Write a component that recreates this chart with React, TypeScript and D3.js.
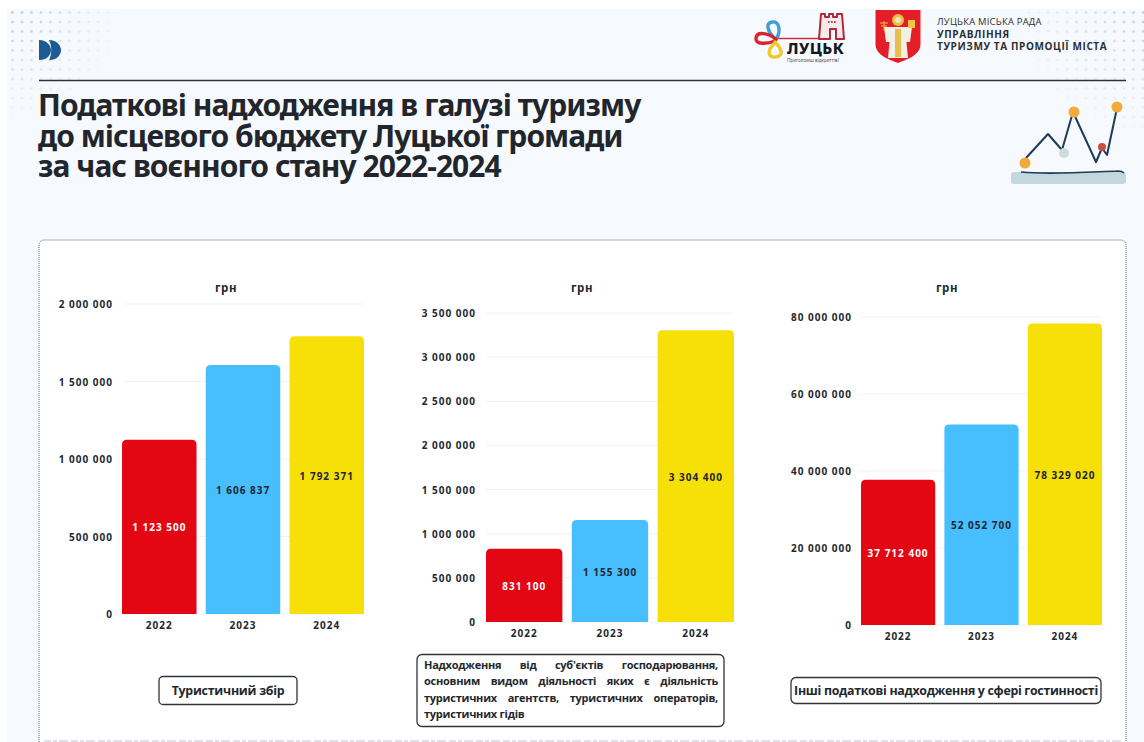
import React, { useLayoutEffect, useRef } from "react";
import * as d3 from "d3";

const years = ["2022", "2023", "2024"];
const barColors = ["#e30613", "#47bfff", "#f6e008"];
const labelColors = ["#ffffff", "#1c2530", "#1c2530"];

const touristTax = [1123500, 1606837, 1792371];
const agencyTax = [831100, 1155300, 3304400];
const hospitalityTax = [37712400, 52052700, 78329020];

const touristTicks = [0, 500000, 1000000, 1500000, 2000000];
const agencyTicks = [0, 500000, 1000000, 1500000, 2000000, 2500000, 3000000, 3500000];
const hospitalityTicks = [0, 20000000, 40000000, 60000000, 80000000];

const titleLines = [
  "Податкові надходження в галузі туризму",
  "до місцевого бюджету Луцької громади",
  "за час воєнного стану 2022-2024",
];
const unitLabel = "грн";
const agencyCaption = [
  "Надходження від суб'єктів господарювання,",
  "основним видом діяльності яких є діяльність",
  "туристичних агентств, туристичних операторів,",
];
const agencyCaptionLast = "туристичних гідів";

const FONT = "'Noto Sans', 'Open Sans', sans-serif";
const CAPTION_FONT = "'Open Sans', 'Noto Sans', sans-serif";
const INK = "#23282f";
const fmt = (v: number) => d3.format(",")(v).replace(/,/g, " ");

function topRoundedBar(x: number, y: number, w: number, h: number, r: number) {
  const p = d3.path();
  p.moveTo(x, y + h);
  p.lineTo(x, y + r);
  p.quadraticCurveTo(x, y, x + r, y);
  p.lineTo(x + w - r, y);
  p.quadraticCurveTo(x + w, y, x + w, y + r);
  p.lineTo(x + w, y + h);
  p.closePath();
  return p.toString();
}

type ChartProps = {
  values: number[];
  ticks: number[];
  x0: number;
  x1: number;
  yTop: number;
  yBottom: number;
  tickX: number;
  gridStart: number;
  unitX: number;
  unitY: number;
};

function BarPanel({ values, ticks, x0, x1, yTop, yBottom, tickX, gridStart, unitX, unitY }: ChartProps) {
  const x = d3.scaleBand<string>().domain(years).range([x0, x1]).paddingInner(0.11).paddingOuter(0);
  const y = d3.scaleLinear().domain([0, ticks[ticks.length - 1]]).range([yBottom, yTop]);
  const numStyle: React.CSSProperties = { fontFamily: FONT, fontWeight: 700, fontSize: 10, letterSpacing: 1 };
  return (
    <g>
      <text x={unitX} y={unitY} textAnchor="middle" fill={INK} style={{ ...numStyle, fontSize: 11.5, letterSpacing: 0.6 }}>
        {unitLabel}
      </text>
      {ticks.map((t) => (
        <g key={t}>
          <line x1={gridStart} x2={x1} y1={y(t)} y2={y(t)} stroke="#f0f1f3" strokeWidth={1} />
          <text x={tickX} y={y(t) + 4} textAnchor="end" fill={INK} style={numStyle}>
            {fmt(t)}
          </text>
        </g>
      ))}
      {years.map((yr, i) => {
        const bx = x(yr)!;
        const top = y(values[i]);
        return (
          <g key={yr}>
            <path d={topRoundedBar(bx, top, x.bandwidth(), yBottom - top, 5)} fill={barColors[i]} />
            <text x={bx + x.bandwidth() / 2} y={(top + yBottom) / 2 + 4.5} textAnchor="middle" fill={labelColors[i]} style={numStyle}>
              {fmt(values[i])}
            </text>
            <text x={bx + x.bandwidth() / 2} y={yBottom + 14.5} textAnchor="middle" fill={INK} style={numStyle}>
              {yr}
            </text>
          </g>
        );
      })}
    </g>
  );
}

const captionStyle: React.CSSProperties = { fontFamily: CAPTION_FONT, fontWeight: 700, fontSize: 11, letterSpacing: -0.25 };

function JustifiedLine({ text, x, y, width }: { text: string; x: number; y: number; width: number }) {
  const ref = useRef<SVGTextElement>(null);
  useLayoutEffect(() => {
    const el = ref.current!;
    el.style.wordSpacing = "0px";
    const len = el.getComputedTextLength();
    const gaps = text.split(" ").length - 1;
    el.style.wordSpacing = `${(width - len) / gaps}px`;
  }, [text, width]);
  return (
    <text ref={ref} x={x} y={y} fill={INK} style={captionStyle}>
      {text}
    </text>
  );
}

function Logos() {
  return (
    <g>
      {/* Lutsk city mark */}
      <g fill="none" strokeLinecap="round">
        <path d="M776 40 C766 30 766 23 772 22 C779 21 781 30 777 38" stroke="#3f9fd6" strokeWidth={3.4} />
        <path d="M776 39 C768 33 757 31 756 38 C755 45 767 44 775 41" stroke="#d9232e" strokeWidth={3.4} />
        <path d="M775 42 C782 49 784 56 776 57 C767 58 767 50 775 43" stroke="#f1c92f" strokeWidth={3.4} />
        <path d="M779 38.5 L819 38.5 L823 24" stroke="#c8304a" strokeWidth={1.6} />
      </g>
      <path d="M821 14 L825 14 L825 17 L829 17 L829 14 L833 14 L833 17 L837 17 L837 14 L842 14 L844 39 L836 39 L836 29 L830 29 L830 39 L819 39 Z" fill="#f8e9ea" stroke="#b02a3a" strokeWidth={2} strokeLinejoin="round" />
      <path d="M828 22 h1.6 M831 22 h1.6 M834 22 h1.6" stroke="#70202a" strokeWidth={1.6} />
      <text x={787} y={53.5} fill="#15181c" style={{ fontFamily: FONT, fontWeight: 800, fontSize: 15.5, letterSpacing: 0.5 }}>
        ЛУЦЬК
      </text>
      <text x={787} y={61.5} fill="#555" style={{ fontFamily: FONT, fontSize: 4.6 }}>
        Приголомш відкриттів!
      </text>
      {/* Coat of arms */}
      <path d="M875.5 10 L920.5 10 L920.5 44 C920.5 55 908 59 898 63 C888 59 875.5 55 875.5 44 Z" fill="#e31e26" />
      <circle cx={898} cy={20} r={6} fill="#e9bf45" />
      <circle cx={898} cy={20} r={3} fill="#f3e3b8" />
      <path d="M891 27 L905 27 L908 58 L888 58 Z" fill="#f3efe4" />
      <rect x={895} y={29} width={6} height={28} fill="#e6bf4e" />
      <path d="M884 27 L891 27 L891 42 L886 42 Z" fill="#f3efe4" />
      <path d="M905 27 L912 27 L910 42 L905 42 Z" fill="#f3efe4" />
      <rect x={908} y={20} width={7} height={8} fill="#efc83d" />
      <path d="M884 21 L884 31 M880 23 L888 23 M881 26 L887 26" stroke="#e9bf45" strokeWidth={1} />
      {/* Office name */}
      <g fill="#2b2f36" style={{ fontFamily: CAPTION_FONT }}>
        <text x={937} y={25} style={{ fontSize: 9.4, fontWeight: 400, letterSpacing: 0.25 }}>ЛУЦЬКА МІСЬКА РАДА</text>
        <text x={937} y={38} style={{ fontSize: 10, fontWeight: 700, letterSpacing: 0.6 }}>УПРАВЛІННЯ</text>
        <text x={937} y={50} style={{ fontSize: 10, fontWeight: 700, letterSpacing: 0.6 }}>ТУРИЗМУ ТА ПРОМОЦІЇ МІСТА</text>
      </g>
    </g>
  );
}

function TrendDecor() {
  return (
    <g>
      <rect x={1011} y={172} width={115} height={12} rx={3} fill="#c3d8de" />
      <path d="M1021 172 C1050 175 1090 172 1118 171 C1122 171 1123 172 1124 173" fill="none" stroke="#1f3a58" strokeWidth={1.6} />
      <path d="M1026 158 L1048 134 L1062 150 L1073 112 L1096 162 L1102 148 L1107 155 L1117 108" fill="none" stroke="#1f3a58" strokeWidth={2} strokeLinejoin="round" />
      <circle cx={1025} cy={163} r={5.5} fill="#f0ab3c" />
      <circle cx={1064} cy={153} r={5} fill="#cfdcdf" />
      <circle cx={1074} cy={112} r={5.5} fill="#f0ab3c" />
      <circle cx={1102} cy={147} r={4} fill="#c8523f" />
      <circle cx={1117} cy={107} r={5.5} fill="#f0ab3c" />
    </g>
  );
}

export default function App() {
  return (
    <svg
      width={1144}
      height={742}
      viewBox="0 0 1144 742"
      style={{ position: "absolute", left: 0, top: 0, display: "block", background: "#ffffff" }}
    >
      <defs>
        <pattern id="dots" width={9.5} height={9.5} patternUnits="userSpaceOnUse">
          <circle cx={3} cy={3} r={1.3} fill="#bcc5cf" />
        </pattern>
        <radialGradient id="fadeL" cx={8} cy={9} r={115} gradientUnits="userSpaceOnUse">
          <stop offset="0" stopColor="#fff" stopOpacity={1} />
          <stop offset="1" stopColor="#fff" stopOpacity={0} />
        </radialGradient>
        <radialGradient id="fadeR" cx={1144} cy={9} r={130} gradientUnits="userSpaceOnUse">
          <stop offset="0" stopColor="#fff" stopOpacity={0.9} />
          <stop offset="1" stopColor="#fff" stopOpacity={0} />
        </radialGradient>
        <mask id="maskL"><rect x={0} y={0} width={1144} height={742} fill="url(#fadeL)" /></mask>
        <mask id="maskR"><rect x={0} y={0} width={1144} height={742} fill="url(#fadeR)" /></mask>
      </defs>
      <rect x={7} y={9} width={1137} height={733} fill="#f6f9fd" />
      <rect x={7} y={9} width={120} height={110} fill="url(#dots)" mask="url(#maskL)" />
      <rect x={1020} y={9} width={124} height={120} fill="url(#dots)" mask="url(#maskR)" />

      <path d="M39 40 C47 40 51 46 51 50 C51 55 47 60 39 60 Z" fill="#1c5a94" />
      <path d="M49 40 C57 40 61 46 61 50 C61 55 57 60 49 60 C52 54 52 46 49 40 Z" fill="#1c5a94" />
      <line x1={39} x2={1126} y1={80.5} y2={80.5} stroke="#30343a" strokeWidth={1.4} />

      <Logos />
      <TrendDecor />

      {titleLines.map((l, i) => (
        <text key={l} x={38} y={116 + i * 30.5} fill="#22262c" style={{ fontFamily: FONT, fontWeight: 700, fontSize: 30, letterSpacing: -0.96 }}>
          {l}
        </text>
      ))}

      <path
        d="M39 746 L39 246 Q39 240 45 240 L1120 240 Q1126 240 1126 246 L1126 746"
        fill="#ffffff"
        stroke="#5d6066"
        strokeWidth={1}
        strokeDasharray="1 1"
      />
      <line x1={44} x2={1122} y1={741} y2={741} stroke="#dfe1e5" strokeWidth={2} strokeDasharray="7 2 4 2 9 3" />

      <BarPanel values={touristTax} ticks={touristTicks} x0={122} x1={364} yTop={304} yBottom={614} tickX={113} gridStart={125} unitX={226} unitY={292} />
      <BarPanel values={agencyTax} ticks={agencyTicks} x0={486} x1={734} yTop={313} yBottom={622} tickX={476} gridStart={486} unitX={582} unitY={292} />
      <BarPanel values={hospitalityTax} ticks={hospitalityTicks} x0={861} x1={1102} yTop={317} yBottom={625} tickX={852} gridStart={861} unitX={947} unitY={292} />

      <rect x={159} y={676.5} width={138} height={28} rx={4} fill="#fff" stroke="#30343a" strokeWidth={1.3} />
      <text x={228} y={694.5} textAnchor="middle" fill={INK} style={{ fontFamily: CAPTION_FONT, fontWeight: 700, fontSize: 12.4, letterSpacing: -0.25 }}>
        Туристичний збір
      </text>

      <rect x={417} y={654.5} width={307} height={72} rx={5} fill="#fff" stroke="#30343a" strokeWidth={1.3} />
      {agencyCaption.map((l, i) => (
        <JustifiedLine key={l} text={l} x={424} y={668.5 + i * 16.5} width={294} />
      ))}
      <text x={424} y={718} fill={INK} style={captionStyle}>
        {agencyCaptionLast}
      </text>

      <rect x={791} y={677.5} width={310} height={26} rx={5} fill="#fff" stroke="#30343a" strokeWidth={1.3} />
      <text x={946} y={694.5} textAnchor="middle" fill={INK} style={{ fontFamily: CAPTION_FONT, fontWeight: 700, fontSize: 12.4, letterSpacing: -0.3 }}>
        Інші податкові надходження у сфері гостинності
      </text>
    </svg>
  );
}
